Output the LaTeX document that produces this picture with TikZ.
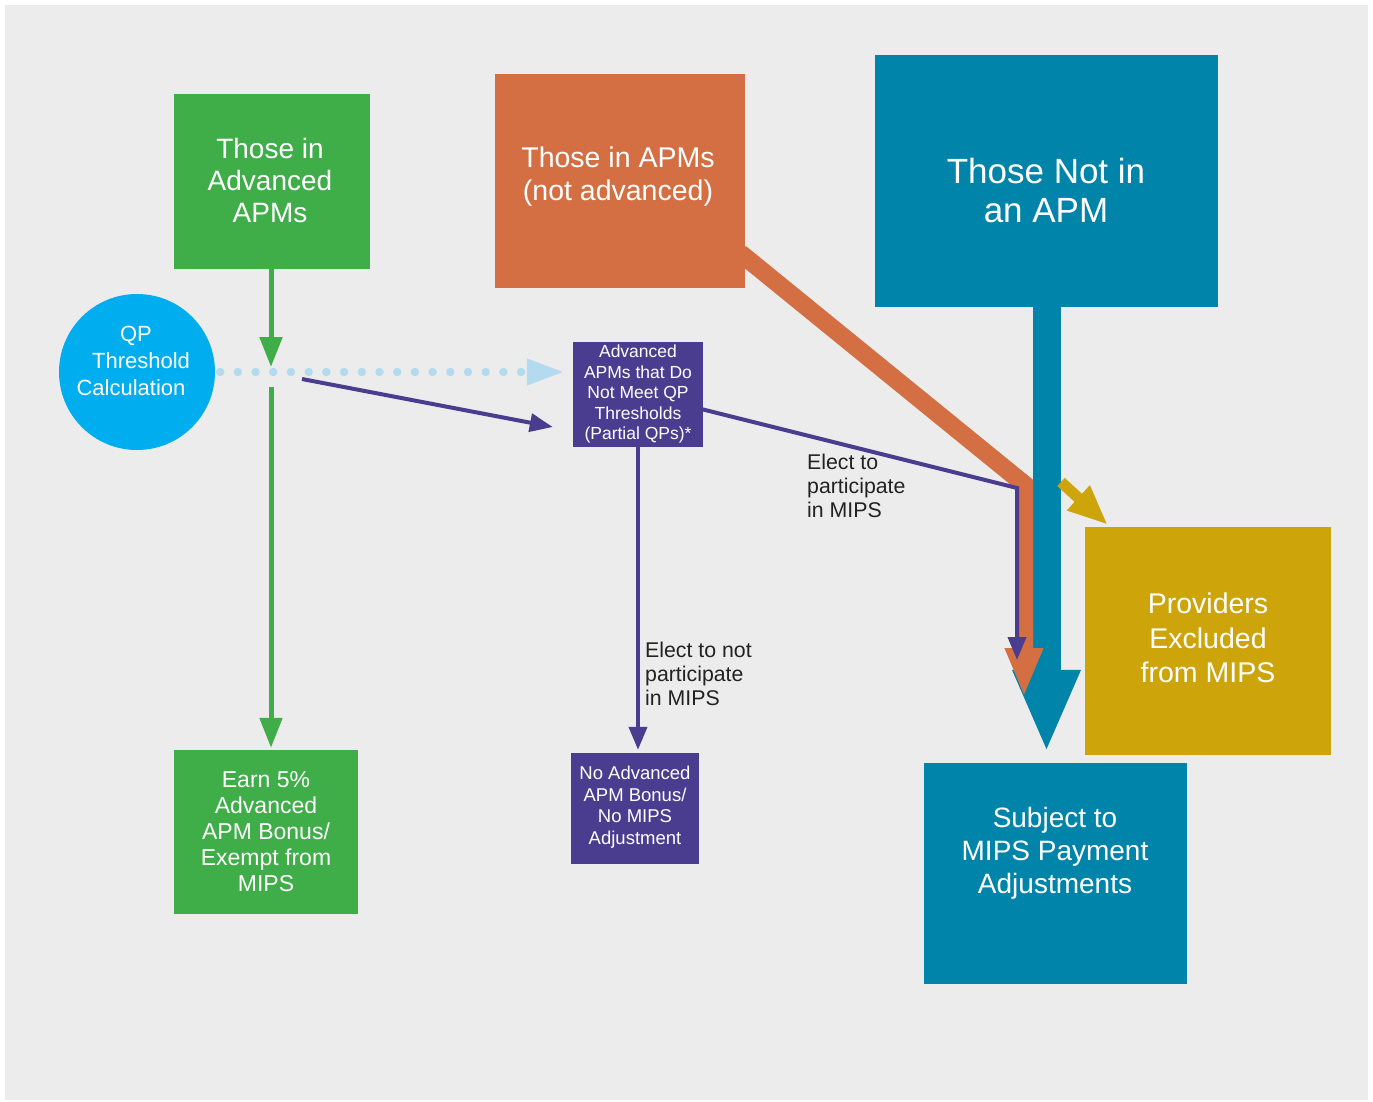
\documentclass[tikz,border=0pt]{standalone}
\usepackage{fontspec}
\setmainfont{Liberation Sans}
\usetikzlibrary{arrows.meta,calc}
\definecolor{bgc}{HTML}{ECECEC}
\definecolor{greenc}{HTML}{3FAE49}
\definecolor{orangec}{HTML}{D46F43}
\definecolor{tealc}{HTML}{0084A9}
\definecolor{cyanc}{HTML}{00AEEF}
\definecolor{purplec}{HTML}{4A3D8F}
\definecolor{goldc}{HTML}{CEA40B}
\definecolor{dotc}{HTML}{B4DAF0}
\definecolor{labc}{HTML}{222222}
\pgfdeclarelayer{bgl}
\pgfdeclarelayer{conn}
\pgfsetlayers{bgl,conn,main}
\tikzset{
  boxn/.style={draw=none, inner sep=0pt, fill=#1},
  txt/.style={text=white, align=center, inner sep=0pt},
  lab/.style={text=labc, align=left, inner sep=0pt, anchor=west},
  greenarrow/.style={draw=greenc, line width=5pt, -{Triangle[length=30pt,width=22pt]}},
  purplearrow/.style={draw=purplec, line width=4pt, -{Triangle[length=23pt,width=18pt]}},
}
\begin{document}
\begin{tikzpicture}[x=1pt,y=-1pt]
\useasboundingbox (0,0) rectangle (1373,1102);
\begin{pgfonlayer}{bgl}
\fill[white] (0,0) rectangle (1373,1102);
\fill[bgc] (5,5) rectangle (1368,1100);
\end{pgfonlayer}

% boxes
\node[boxn=greenc, minimum width=196pt, minimum height=175pt] (g1) at (272,181.5) {};
\node[boxn=orangec, minimum width=250pt, minimum height=214pt] (ob) at (620,181) {};
\node[boxn=tealc, minimum width=343pt, minimum height=252pt] (tb) at (1046.5,181) {};
\node[boxn=cyanc, circle, minimum size=156pt] (qp) at (137,372) {};
\node[boxn=purplec, minimum width=130pt, minimum height=105pt] (pb) at (638,394.5) {};
\node[boxn=purplec, minimum width=128pt, minimum height=111pt] (pb2) at (635,808.5) {};
\node[boxn=greenc, minimum width=184pt, minimum height=164pt] (g2) at (266,832) {};
\node[boxn=goldc, minimum width=246pt, minimum height=228pt] (gd) at (1208,641) {};
\node[boxn=tealc, minimum width=263pt, minimum height=221pt] (sb) at (1055.5,873.5) {};

% texts
\node[txt, font=\fontsize{28}{32}\selectfont] (g1t) at (270,180) {Those in\\Advanced\\APMs};
\node[txt, font=\fontsize{28.5}{33}\selectfont] (obt) at (618,177) {Those in APMs\\(not advanced)};
\node[txt, font=\fontsize{35}{39}\selectfont] (tbt) at (1046,190) {Those Not in\\an APM};
\node[txt, font=\fontsize{22}{27}\selectfont] (qpt) at (136,361) {QP\\\hspace*{10pt}Threshold\\Calculation\hspace*{10pt}};
\node[txt, font=\fontsize{17.5}{20.5}\selectfont] (pbt) at (638,394) {Advanced\\APMs that Do\\Not Meet QP\\Thresholds\\(Partial QPs)*};
\node[txt, font=\fontsize{18.5}{21.5}\selectfont] (pb2t) at (635,807) {No Advanced\\APM Bonus/\\No MIPS\\Adjustment};
\node[txt, font=\fontsize{23}{26}\selectfont] (g2t) at (266,832) {Earn 5\%\\Advanced\\APM Bonus/\\Exempt from\\MIPS};
\node[txt, font=\fontsize{28.5}{34.5}\selectfont] (gdt) at (1208,638) {Providers\\Excluded\\from MIPS};
\node[txt, font=\fontsize{28}{33}\selectfont] (sbt) at (1055,853) {Subject to\\MIPS Payment\\Adjustments};
\node[lab, font=\fontsize{21.3}{24}\selectfont] (lab1) at (807,486) {Elect to\\participate\\in MIPS};
\node[lab, font=\fontsize{21.3}{24}\selectfont] (lab2) at (645,674) {Elect to not\\participate\\in MIPS};

% helper coordinates
\coordinate (gmid) at (271,367);
\coordinate (glow) at (271,387);
\coordinate (dotend) at (523,372);
\coordinate (dotbase) at (527,372);
\coordinate (pstart) at (302,379);
\coordinate (obend) at (1024,484);
\coordinate (otip) at (1024,697);
\coordinate (pbend) at (1017,488);
\coordinate (ptip) at (1017,660);
\coordinate (gstart) at (1061,482);

\begin{pgfonlayer}{conn}
  % teal
  \draw[tealc, line width=28pt, -{Triangle[length=83pt,width=62pt]}]
    ([shift={(0,-6)}]tb.south) -- ($(tb.south |- sb.north)+(0,-10)$);
  % gold
  \draw[goldc, line width=11pt, -{Triangle[length=40pt,width=31pt]}]
    (gstart) -- ([shift={(23,-2)}]gd.north west);
  % orange
  \draw[orangec, line width=18pt, line join=miter, -{Triangle[length=49pt,width=35pt]}]
    ([shift={(-5,72)}]ob.east) -- (obend) -- (otip);
  % purple
  \draw[purplearrow] ([shift={(-2,14.5)}]pb.east) -- (pbend) -- (ptip);
  \draw[purplearrow] (pb.south) -- ($(pb.south |- pb2.north)+(0,-3)$);
  \draw[purplearrow] (pstart) -- ([shift={(-20,32.5)}]pb.west);
  % green
  \draw[greenarrow] (g1.south -| gmid) -- (gmid);
  \draw[greenarrow] (glow) -- ($(glow |- g2.north)+(0,-2)$);
  % dotted
  \draw[dotc, line width=8.5pt, line cap=round, dash pattern=on 0pt off 17.7pt]
    ([xshift=5pt]qp.east) -- (dotend);
  \draw[dotc, line width=0.5pt, -{Triangle[length=36pt,width=27pt]}]
    (dotbase) -- ($(pb.west |- qp.east)+(-10,0)$);
\end{pgfonlayer}
\end{tikzpicture}
\end{document}
